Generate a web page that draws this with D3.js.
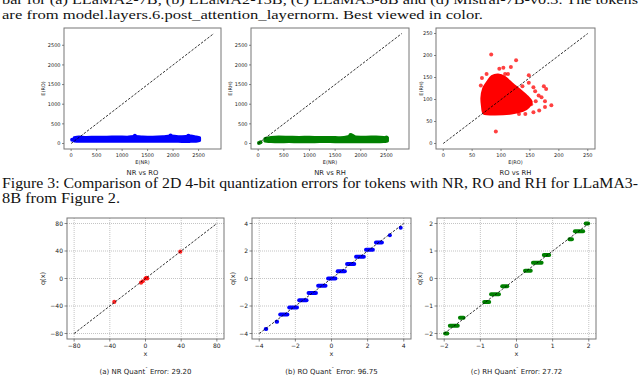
<!DOCTYPE html>
<html>
<head>
<meta charset="utf-8">
<title>Quantization errors NR / RO / RH</title>
<style>
  body { margin: 0; background: #fff; }
  svg text { font-family: "DejaVu Sans", sans-serif; fill: #222; }
  svg text.paper { font-family: "Liberation Serif", "Times New Roman", serif; fill: #111; }
</style>
</head>
<body>
<div id="fig"></div>
<script src="https://cdn.jsdelivr.net/npm/d3@7"></script>
<script>
// ---- top row: per-token errors, dense bands given as envelopes
var topTicksBig = [0, 500, 1000, 1500, 2000, 2500];
var topTicksSmall = [0, 50, 100, 150, 200, 250];

var nrRoX  = [60, 150, 300, 500, 700, 900, 1100, 1250, 1400, 1600, 1800, 1950, 2100, 2250, 2350, 2450, 2520];
var nrRoLo = [65, 60, 60, 55, 60, 60, 55, 60, 60, 55, 60, 55, 55, 50, 55, 60, 75];
var nrRoHi = [145, 165, 155, 160, 160, 165, 160, 180, 165, 160, 170, 190, 175, 180, 190, 165, 145];
var nrRoPtX = [20, 1250, 1950, 2300];
var nrRoPtY = [95, 195, 205, 200];

var nrRhX  = [130, 250, 400, 600, 800, 1000, 1200, 1400, 1600, 1750, 1820, 1900, 2100, 2300, 2450, 2520];
var nrRhLo = [65, 50, 45, 50, 45, 45, 50, 50, 45, 45, 45, 45, 45, 45, 50, 65];
var nrRhHi = [125, 155, 165, 160, 155, 160, 150, 155, 145, 170, 215, 165, 160, 165, 155, 145];
var nrRhPtX = [15, 45, 1800, 2500];
var nrRhPtY = [15, 35, 215, 155];

// RO vs RH: dense core outline + scattered tokens
var roRhCoreX = [70, 90, 118, 138, 148, 153, 146, 133, 120, 107, 95, 84, 76, 69, 66, 67];
var roRhCoreY = [68, 66, 68, 74, 83, 95, 107, 122, 136, 151, 157, 153, 140, 125, 104, 85];
var roRhPtX = [83, 126, 117, 97, 104, 112, 65, 91, 148, 148, 156, 174, 178, 187, 176, 176, 165, 160, 166, 142, 131, 156, 137, 75, 67, 107, 93, 159, 170, 152];
var roRhPtY = [202, 189, 174, 170, 172, 158, 132, 27, 155, 138, 128, 130, 124, 87, 96, 83, 109, 96, 75, 67, 67, 71, 130, 158, 149, 158, 153, 119, 105, 89];

// ---- bottom row: x vs quantized q(x)
var nrX = [-35, -5, -3, 0, 1, 2, 39];
var nrQ = [-34, -6, -4, 0, 1, 0, 39];

var roLevel = [-3.675, -3.15, -2.625, -2.1, -1.575, -1.05, -0.525, 0, 0.525, 1.05, 1.575, 2.1, 2.625, 3.15, 3.7];
var roMin   = [-3.75, -3.15, -2.95, -2.45, -1.9, -1.38, -0.85, -0.3, 0.23, 0.75, 1.25, 1.8, 2.35, 3.12, 3.72];
var roMax   = [-3.5, -2.9, -2.33, -1.8, -1.27, -0.75, -0.22, 0.33, 0.85, 1.37, 1.9, 2.4, 2.9, 3.2, 3.72];

var rhLevel = [-2, -1.714, -1.429, -0.857, -0.571, -0.286, 0.286, 0.571, 0.857, 1.429, 1.714, 2];
var rhMin   = [-2.03, -1.9, -1.62, -0.95, -0.76, -0.45, 0.18, 0.4, 0.7, 1.41, 1.56, 1.86];
var rhMax   = [-1.86, -1.57, -1.41, -0.7, -0.43, -0.2, 0.45, 0.75, 0.96, 1.59, 1.9, 2.04];

var nrTicks = [-80, -40, 0, 40, 80];
var roTicks = [-4, -2, 0, 2, 4];
var rhTicks = [-2, -1, 0, 1, 2];

var W = 640, H = 382;
var svg = d3.select("#fig").append("svg").attr("width", W).attr("height", H);
svg.append("rect").attr("width", W).attr("height", H).attr("fill", "#fff");

// ---- paper text around the figure
function paperLine(str, x, y, len, size) {
  svg.append("text").attr("class", "paper")
    .attr("x", x).attr("y", y)
    .attr("font-size", size)
    .attr("textLength", len).attr("lengthAdjust", "spacingAndGlyphs")
    .text(str);
}
paperLine("bar for (a) LLaMA2-7B, (b) LLaMA2-13B, (c) LLaMA3-8B and (d) Mistral-7B-v0.3. The tokens", 2, 3.5, 636, 13);
paperLine("are from model.layers.6.post_attention_layernorm. Best viewed in color.", 2, 18.5, 481, 13);
paperLine("Figure 3: Comparison of 2D 4-bit quantization errors for tokens with NR, RO and RH for LLaMA3-", 2, 187.5, 636, 14);
paperLine("8B from Figure 2.", 2, 202.5, 118, 14);
paperLine("Figure 4: Comparison of 4-bit quantization errors for tokens with outliers of mixed NR, RO", 2, 392.5, 636, 14);

// ---- generic panel
function panel(o) {
  var x = d3.scaleLinear().domain(o.xDom).range([o.x0, o.x1]);
  var y = d3.scaleLinear().domain(o.yDom).range([o.y1, o.y0]);
  var g = svg.append("g");
  var fmt = d3.format("");

  if (o.grid) {
    g.selectAll(".gx").data(o.xTicks).enter().append("line")
      .attr("x1", d => x(d)).attr("x2", d => x(d))
      .attr("y1", o.y0).attr("y2", o.y1)
      .attr("stroke", "#aaa").attr("stroke-width", 0.7).attr("stroke-dasharray", "1,1");
    g.selectAll(".gy").data(o.yTicks).enter().append("line")
      .attr("y1", d => y(d)).attr("y2", d => y(d))
      .attr("x1", o.x0).attr("x2", o.x1)
      .attr("stroke", "#aaa").attr("stroke-width", 0.7).attr("stroke-dasharray", "1,1");
  }

  o.draw(g, x, y);

  // y = x reference
  g.append("line")
    .attr("x1", x(o.diag[0])).attr("y1", y(o.diag[0]))
    .attr("x2", x(o.diag[1])).attr("y2", y(o.diag[1]))
    .attr("stroke", "#000").attr("stroke-width", 0.8).attr("stroke-dasharray", "2.5,1.5");

  g.append("rect")
    .attr("x", o.x0).attr("y", o.y0)
    .attr("width", o.x1 - o.x0).attr("height", o.y1 - o.y0)
    .attr("fill", "none").attr("stroke", "#777").attr("stroke-width", 1);

  var tl = o.tickLen;
  g.selectAll(".tx").data(o.xTicks).enter().append("line")
    .attr("x1", d => x(d)).attr("x2", d => x(d))
    .attr("y1", o.y1).attr("y2", o.y1 + tl).attr("stroke", "#555").attr("stroke-width", 0.7);
  g.selectAll(".ty").data(o.yTicks).enter().append("line")
    .attr("y1", d => y(d)).attr("y2", d => y(d))
    .attr("x1", o.x0 - tl).attr("x2", o.x0).attr("stroke", "#555").attr("stroke-width", 0.7);

  g.selectAll(".lx").data(o.xTicks).enter().append("text")
    .attr("x", d => x(d)).attr("y", o.y1 + tl + o.fs + 0.5)
    .attr("text-anchor", "middle").attr("font-size", o.fs)
    .text(d => fmt(d));
  g.selectAll(".ly").data(o.yTicks).enter().append("text")
    .attr("x", o.x0 - tl - 1.5).attr("y", d => y(d) + o.fs * 0.36)
    .attr("text-anchor", "end").attr("font-size", o.fs)
    .text(d => fmt(d));

  g.append("text")
    .attr("x", (o.x0 + o.x1) / 2).attr("y", o.xLabY)
    .attr("text-anchor", "middle").attr("font-size", o.labFs)
    .text(o.xLab);
  g.append("text")
    .attr("transform", "translate(" + o.yLabX + "," + ((o.y0 + o.y1) / 2) + ") rotate(-90)")
    .attr("text-anchor", "middle").attr("font-size", o.labFs)
    .text(o.yLab);

  if (o.title) {
    var t = g.append("text")
      .attr("x", (o.x0 + o.x1) / 2).attr("y", o.titleY)
      .attr("text-anchor", "middle").attr("font-size", o.titleFs);
    o.title(t);
  }
}

function band(color, xs, lo, hi, px, py) {
  return function(g, x, y) {
    var rows = xs.map((d, i) => ({ x: d, lo: lo[i], hi: hi[i] }));
    var area = d3.area().x(d => x(d.x)).y0(d => y(d.lo)).y1(d => y(d.hi)).curve(d3.curveMonotoneX);
    g.append("path").attr("d", area(rows))
      .attr("fill", color).attr("stroke", color).attr("stroke-width", 3).attr("stroke-linejoin", "round");
    g.selectAll(".pt").data(px).enter().append("circle")
      .attr("cx", d => x(d)).attr("cy", (d, i) => y(py[i])).attr("r", 2)
      .attr("fill", color);
  };
}

function steps(color, lev, mn, mx) {
  return function(g, x, y) {
    var cap = 2;
    g.selectAll(".seg").data(lev).enter().append("line")
      .attr("x1", (d, i) => x(mn[i]) + cap)
      .attr("x2", (d, i) => Math.max(x(mx[i]) - cap, x(mn[i]) + cap))
      .attr("y1", d => y(d)).attr("y2", d => y(d))
      .attr("stroke", color).attr("stroke-width", 4).attr("stroke-linecap", "round");
  };
}

function caption(letter, name, val) {
  return function(t) {
    t.append("tspan").text("(" + letter + ") " + name + " Quant");
    t.append("tspan").attr("dy", -3).attr("font-size", 5).text("ˆ");
    t.append("tspan").attr("dy", 3).text(" Error: " + val);
  };
}

function plainTitle(s) { return function(t) { t.text(s); }; }

var topY0 = 28, topY1 = 149;
var bigDom = [-140, 2940], smallDom = [-12.5, 262.5];

panel({ x0: 64, x1: 221, y0: topY0, y1: topY1, xDom: bigDom, yDom: bigDom,
  xTicks: topTicksBig, yTicks: topTicksBig, tickLen: 2, fs: 5, labFs: 5,
  xLab: "E(NR)", yLab: "E(RO)", xLabY: 163.5, yLabX: 44.5,
  title: plainTitle("NR vs RO"), titleY: 175, titleFs: 6.8, diag: [0, 2800],
  draw: band("#0000ff", nrRoX, nrRoLo, nrRoHi, nrRoPtX, nrRoPtY) });

panel({ x0: 251, x1: 409, y0: topY0, y1: topY1, xDom: bigDom, yDom: bigDom,
  xTicks: topTicksBig, yTicks: topTicksBig, tickLen: 2, fs: 5, labFs: 5,
  xLab: "E(NR)", yLab: "E(RH)", xLabY: 163.5, yLabX: 231.5,
  title: plainTitle("NR vs RH"), titleY: 175, titleFs: 6.8, diag: [0, 2800],
  draw: band("#008000", nrRhX, nrRhLo, nrRhHi, nrRhPtX, nrRhPtY) });

panel({ x0: 436, x1: 595, y0: topY0, y1: topY1, xDom: smallDom, yDom: smallDom,
  xTicks: topTicksSmall, yTicks: topTicksSmall, tickLen: 2, fs: 5, labFs: 5,
  xLab: "E(RO)", yLab: "E(RH)", xLabY: 163.5, yLabX: 423,
  title: plainTitle("RO vs RH"), titleY: 175, titleFs: 6.8, diag: [0, 250],
  draw: function(g, x, y) {
    var pts = roRhCoreX.map((d, i) => [x(d), y(roRhCoreY[i])]);
    g.append("path").attr("d", d3.line().curve(d3.curveCardinalClosed.tension(0.3))(pts))
      .attr("fill", "#ff0000").attr("stroke", "#ff0000").attr("stroke-width", 2);
    g.selectAll(".pt").data(roRhPtX).enter().append("circle")
      .attr("cx", d => x(d)).attr("cy", (d, i) => y(roRhPtY[i])).attr("r", 2)
      .attr("fill", "#ff0000").attr("fill-opacity", 0.75);
  } });

var botY0 = 218, botY1 = 339;

panel({ x0: 67, x1: 224, y0: botY0, y1: botY1, xDom: [-88, 88], yDom: [-88, 88],
  xTicks: nrTicks, yTicks: nrTicks, tickLen: 2.5, fs: 6, labFs: 6.5, grid: true,
  xLab: "x", yLab: "q(x)", xLabY: 356, yLabX: 44.5,
  title: caption("a", "NR", "29.20"), titleY: 374, titleFs: 7, diag: [-80, 80],
  draw: function(g, x, y) {
    g.selectAll(".pt").data(nrX).enter().append("circle")
      .attr("cx", d => x(d)).attr("cy", (d, i) => y(nrQ[i])).attr("r", 2.1)
      .attr("fill", "#ff0000").attr("fill-opacity", 0.85);
  } });

panel({ x0: 252, x1: 411, y0: botY0, y1: botY1, xDom: [-4.4, 4.4], yDom: [-4.4, 4.4],
  xTicks: roTicks, yTicks: roTicks, tickLen: 2.5, fs: 6, labFs: 6.5, grid: true,
  xLab: "x", yLab: "q(x)", xLabY: 356, yLabX: 235,
  title: caption("b", "RO", "96.75"), titleY: 374, titleFs: 7, diag: [-4, 4],
  draw: steps("#0000ff", roLevel, roMin, roMax) });

panel({ x0: 437, x1: 596, y0: botY0, y1: botY1, xDom: [-2.2, 2.2], yDom: [-2.2, 2.2],
  xTicks: rhTicks, yTicks: rhTicks, tickLen: 2.5, fs: 6, labFs: 6.5, grid: true,
  xLab: "x", yLab: "q(x)", xLabY: 356, yLabX: 421.5,
  title: caption("c", "RH", "27.72"), titleY: 374, titleFs: 7, diag: [-2, 2],
  draw: steps("#008000", rhLevel, rhMin, rhMax) });
</script>
</body>
</html>
